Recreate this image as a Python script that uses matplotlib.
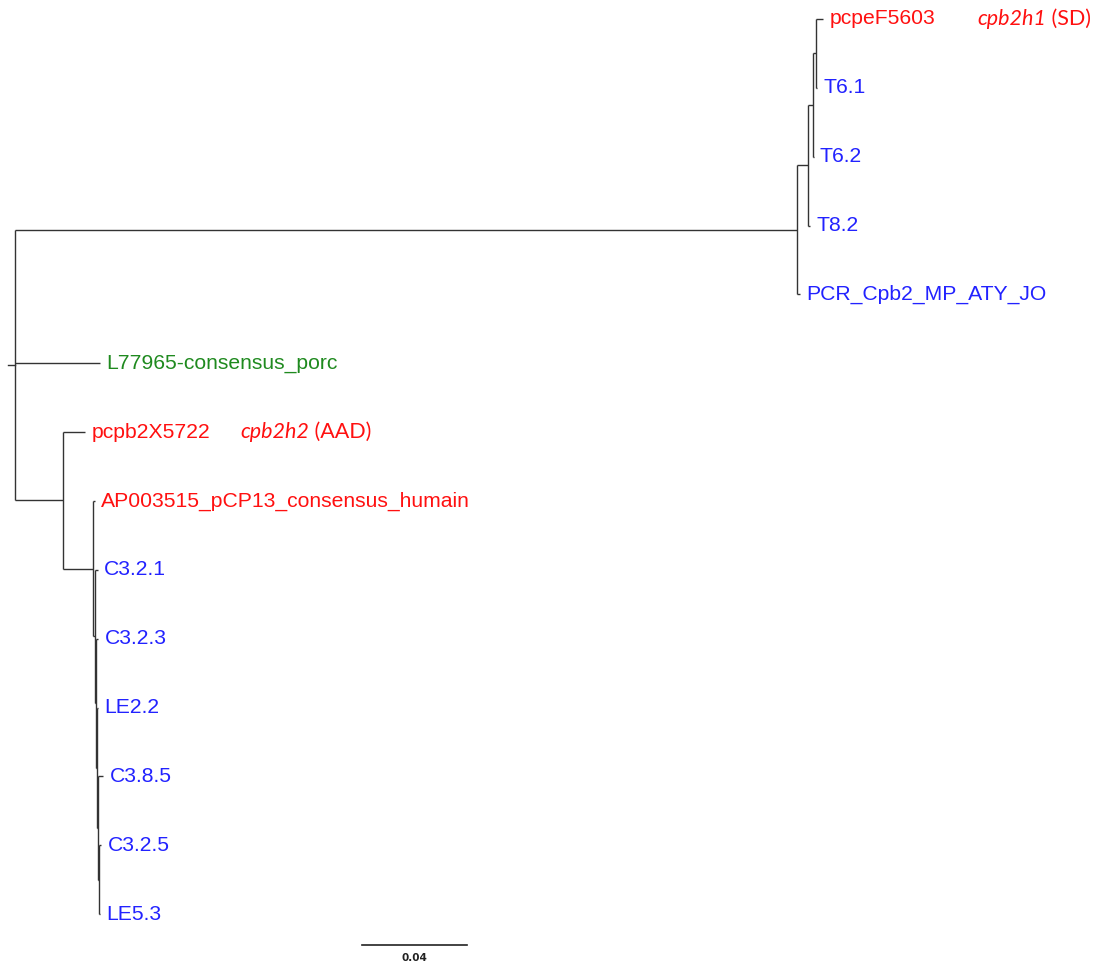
import matplotlib
matplotlib.use("Agg")
import matplotlib.pyplot as plt

# ---- tree data ----
leaf_order = ["pcpeF5603", "T6.1", "T6.2", "T8.2", "PCR_Cpb2_MP_ATY_JO",
              "L77965-consensus_porc", "pcpb2X5722",
              "AP003515_pCP13_consensus_humain", "C3.2.1", "C3.2.3", "LE2.2",
              "C3.8.5", "C3.2.5", "LE5.3"]
leaf_colors = ["#ff1010", "#2222ff", "#2222ff", "#2222ff", "#2222ff",
               "#1f8a1f", "#ff1010",
               "#ff1010", "#2222ff", "#2222ff", "#2222ff",
               "#2222ff", "#2222ff", "#2222ff"]

node_names = ["N1", "PCR_Cpb2_MP_ATY_JO", "N2", "T8.2", "N3", "T6.2", "N4",
              "T6.1", "pcpeF5603", "L77965-consensus_porc", "A", "pcpb2X5722",
              "B", "AP003515_pCP13_consensus_humain", "C", "C3.2.1", "D",
              "C3.2.3", "E", "LE2.2", "F", "C3.8.5", "G", "C3.2.5", "LE5.3"]
node_parents = ["root", "N1", "N1", "N2", "N2", "N3", "N3",
                "N4", "N4", "root", "root", "A",
                "A", "B", "B", "C", "C",
                "D", "D", "E", "E", "F", "F", "G", "G"]
branch_lengths = [0.2979, 0.0011, 0.0042, 0.0008, 0.0019, 0.0002, 0.0011,
                  0.0004, 0.0027, 0.0324, 0.0183, 0.0084,
                  0.0114, 0.0008, 0.0008, 0.0011, 0.0004,
                  0.0008, 0.0004, 0.0004, 0.0004, 0.0019, 0.0004, 0.0008, 0.0004]
root_stub = 0.0027

annotations = [("pcpeF5603", "cpb2h1", " (SD)"), ("pcpb2X5722", "cpb2h2", " (AAD)")]
annotation_x = [0.3665, 0.0857]   # horizontal position of the note (tree units)

scale_value = 0.04
scale_x0 = 0.1322
scale_y = 13.45

# ---- layout computations ----
parent_of = dict(zip(node_names, node_parents))
blen = dict(zip(node_names, branch_lengths))
children = {}
for n, p in zip(node_names, node_parents):
    children.setdefault(p, []).append(n)

xpos = {"root": 0.0}
def set_x(n):
    for c in children.get(n, []):
        xpos[c] = xpos[n] + blen[c]
        set_x(c)
set_x("root")

ypos = {name: i for i, name in enumerate(leaf_order)}
def set_y(n):
    if n in ypos:
        return ypos[n]
    ys = [set_y(c) for c in children[n]]
    ypos[n] = (min(ys) + max(ys)) / 2.0
    return ypos[n]
set_y("root")

# ---- drawing ----
W, H = 1098, 966
fig = plt.figure(figsize=(W / 100, H / 100), dpi=100)
ax = fig.add_axes([0, 0, 1, 1])
ax.set_xlim(-15 / 2625, (W - 15) / 2625)
step = 68.85
ax.set_ylim((H - 19) / step, -19 / step)
ax.axis("off")

lc = "#333333"
lw = 1.0
for n in node_names:
    p = parent_of[n]
    ax.plot([xpos[p], xpos[n]], [ypos[n], ypos[n]], color=lc, lw=lw,
            solid_capstyle="butt")
for n, ch in children.items():
    ys = [ypos[c] for c in ch]
    ax.plot([xpos[n], xpos[n]], [min(ys), max(ys)], color=lc, lw=lw,
            solid_capstyle="butt")
ax.plot([-root_stub, 0], [ypos["root"], ypos["root"]], color=lc, lw=lw)

for name, col in zip(leaf_order, leaf_colors):
    ax.annotate(name, xy=(xpos[name], ypos[name]), xytext=(4.5, 0),
                textcoords="offset points", ha="left", va="center",
                color=col, fontsize=15.2, family="Liberation Sans")

for (leaf, ital, rest), ax_x in zip(annotations, annotation_x):
    t1 = ax.text(ax_x, ypos[leaf], ital, ha="left", va="center",
                 color="#ff1010", fontsize=15.5, family="Lato", style="italic")
    ax.annotate(rest, xy=(1, 0.5), xycoords=t1, ha="left", va="center",
                color="#ff1010", fontsize=15.5, family="Lato")

ax.plot([scale_x0, scale_x0 + scale_value], [scale_y, scale_y], color="#222222", lw=1.2)
ax.text(scale_x0 + scale_value / 2, scale_y + 0.11, f"{scale_value:.2f}", ha="center",
        va="top", fontsize=7.5, fontweight="bold", color="#222222",
        family="DejaVu Sans")

fig.savefig("out.png", dpi=100)
